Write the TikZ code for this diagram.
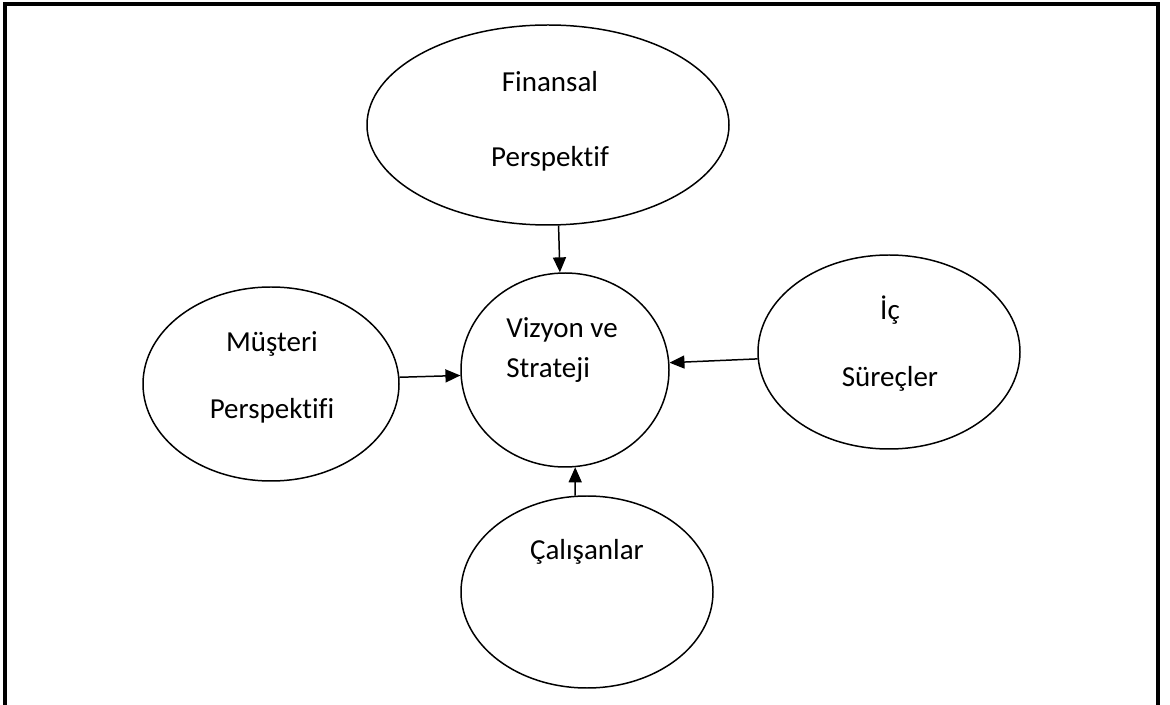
\documentclass[tikz,border=0pt]{standalone}
\usepackage{fontspec}
\setmainfont[RawFeature={-liga;-clig;-calt;-dlig}]{Carlito}
\usetikzlibrary{shapes.geometric,arrows.meta}
\tikzset{
  bubble/.style={ellipse, draw, line width=0.85pt, inner sep=0pt},
  txt/.style={anchor=base, inner sep=0pt, font=\fontsize{16.5}{20}\selectfont},
  feed/.style={line width=0.85pt, -{Triangle[length=0.3cm,width=0.26cm]}}
}
\begin{document}
\begin{tikzpicture}
\useasboundingbox (0,0) rectangle (23.4,14.08);
\draw[line width=1.8pt] (0.1,-0.2) -- (0.1,14.0) -- (23.16,14.0) -- (23.16,-0.2);
% the five ellipses
\node[bubble, minimum width=7.24cm, minimum height=4.0cm] (fin) at (10.96,11.58) {};
\node[bubble, minimum width=5.12cm, minimum height=3.88cm] (mus) at (5.42,6.40) {};
\node[bubble, minimum width=4.16cm, minimum height=3.88cm] (viz) at (11.30,6.68) {};
\node[bubble, minimum width=5.24cm, minimum height=3.88cm] (ic) at (17.78,7.04) {};
\node[bubble, minimum width=5.04cm, minimum height=3.84cm] (cal) at (11.74,2.24) {};
% texts
\node[txt] (fin1) at (11.0,12.24) {Finansal};
\node[txt] (fin2) at (11.0,10.74) {Perspekt\kern0pt if};
\node[txt] (mus1) at (5.44,7.04) {Müşteri};
\node[txt] (mus2) at (5.44,5.70) {Perspekt\kern0pt if\kern0pt i};
\node[txt, anchor=base west] (viz1) at (10.12,7.32) {Vizyon ve};
\node[txt, anchor=base west] (viz2) at (10.12,6.52) {Strateji};
\node[txt] (ic1) at (17.80,7.68) {İç};
\node[txt] (ic2) at (17.80,6.34) {Süreçler};
\node[txt] (cal1) at (11.74,2.88) {Çalışanlar};
% arrows into the centre
\draw[feed] (fin.-84) -- (viz.93);
\draw[feed] (mus.3) -- (viz.183);
\draw[feed] (ic.183) -- (viz.4);
\draw[feed] (cal.97) -- (viz.-84);
\end{tikzpicture}
\end{document}
